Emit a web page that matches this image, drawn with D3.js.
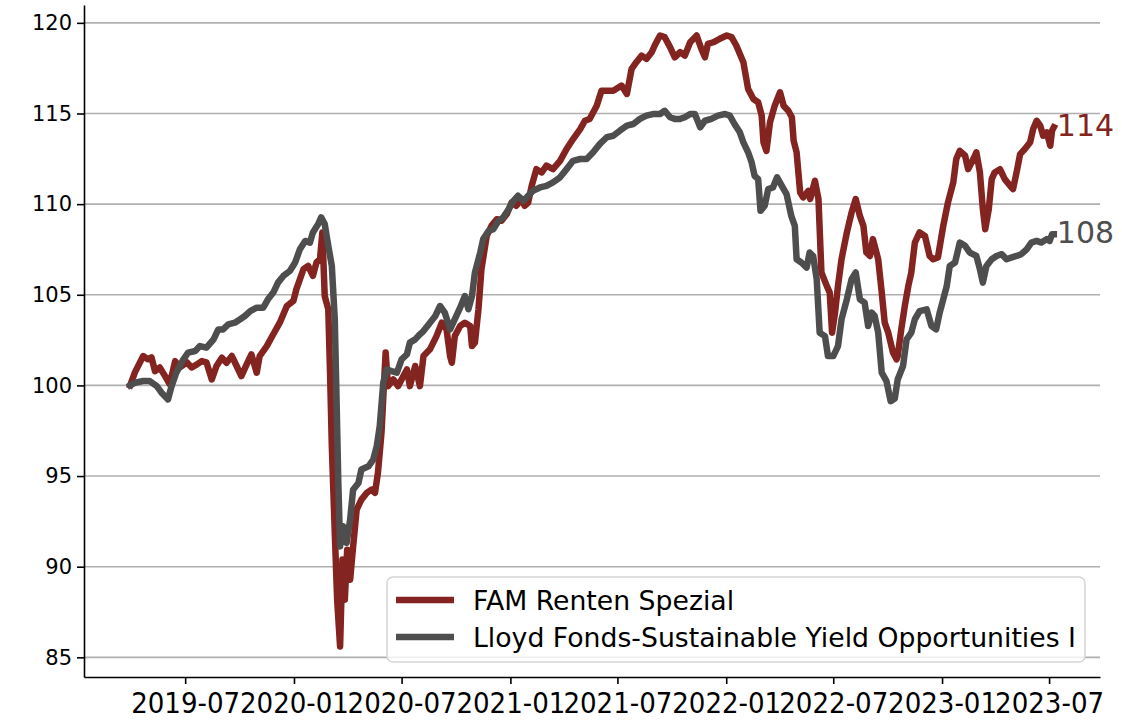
<!DOCTYPE html>
<html>
<head>
<meta charset="utf-8">
<script src="https://cdn.jsdelivr.net/npm/d3@7"></script>
<style>
  body { margin: 0; background: #fff; }
  svg { display: block; font-family: "DejaVu Sans", sans-serif; }
</style>
</head>
<body>
<svg id="chart" width="1122" height="726"></svg>
<script>
const seriesNames = ["FAM Renten Spezial", "Lloyd Fonds-Sustainable Yield Opportunities I"];
const seriesColors = ["#832420", "#4f4e4f"];

const famDates = [
  "2019-03-30","2019-04-07","2019-04-21","2019-04-29","2019-05-05","2019-05-11","2019-05-19","2019-05-28",
  "2019-06-05","2019-06-14","2019-06-22","2019-07-04","2019-07-12","2019-07-21","2019-07-29","2019-08-06",
  "2019-08-15","2019-08-23","2019-09-01","2019-09-09","2019-09-18","2019-09-26","2019-10-04","2019-10-13",
  "2019-10-21","2019-10-30","2019-11-04","2019-11-16","2019-11-27","2019-12-08","2019-12-20","2019-12-31",
  "2020-01-05","2020-01-17","2020-01-25","2020-02-02","2020-02-08","2020-02-14","2020-02-18","2020-02-22",
  "2020-02-28","2020-03-02","2020-03-05","2020-03-10","2020-03-14","2020-03-19","2020-03-23","2020-03-27",
  "2020-03-31","2020-04-05","2020-04-09","2020-04-16","2020-04-24","2020-05-03","2020-05-11","2020-05-17",
  "2020-05-22","2020-05-28","2020-06-01","2020-06-04","2020-06-08","2020-06-17","2020-06-25","2020-07-10",
  "2020-07-15","2020-07-24","2020-08-01","2020-08-07","2020-08-18","2020-08-29","2020-09-07","2020-09-15",
  "2020-09-21","2020-09-24","2020-09-29","2020-10-08","2020-10-16","2020-10-25","2020-10-28","2020-11-02",
  "2020-11-08","2020-11-13","2020-11-22","2020-11-30","2020-12-09","2020-12-17","2020-12-26","2021-01-03",
  "2021-01-11","2021-01-20","2021-01-25","2021-01-31","2021-02-06","2021-02-14","2021-02-23","2021-03-03",
  "2021-03-14","2021-03-26","2021-04-06","2021-04-17","2021-04-29","2021-05-07","2021-05-15","2021-05-27",
  "2021-06-04","2021-06-13","2021-06-24","2021-07-08","2021-07-17","2021-07-25","2021-08-02","2021-08-11",
  "2021-08-19","2021-08-28","2021-09-02","2021-09-11","2021-09-19","2021-09-28","2021-10-06","2021-10-15",
  "2021-10-23","2021-11-01","2021-11-12","2021-11-20","2021-11-26","2021-12-01","2021-12-10","2021-12-21",
  "2022-01-02","2022-01-10","2022-01-18","2022-01-30","2022-02-07","2022-02-16","2022-02-24","2022-03-02",
  "2022-03-05","2022-03-10","2022-03-16","2022-03-24","2022-04-02","2022-04-08","2022-04-16","2022-04-22",
  "2022-04-25","2022-04-30","2022-05-06","2022-05-11","2022-05-20","2022-05-23","2022-05-31","2022-06-06",
  "2022-06-11","2022-06-20","2022-06-25","2022-06-29","2022-07-04","2022-07-09","2022-07-15","2022-07-24",
  "2022-08-01","2022-08-08","2022-08-15","2022-08-21","2022-08-26","2022-09-01","2022-09-06","2022-09-15",
  "2022-09-21","2022-09-26","2022-10-02","2022-10-10","2022-10-16","2022-10-18","2022-10-24","2022-10-30",
  "2022-11-05","2022-11-10","2022-11-16","2022-11-24","2022-12-03","2022-12-11","2022-12-17","2022-12-25",
  "2023-01-03","2023-01-11","2023-01-20","2023-01-25","2023-01-31","2023-02-09","2023-02-14","2023-02-23",
  "2023-02-28","2023-03-06","2023-03-11","2023-03-15","2023-03-21","2023-03-26","2023-03-31","2023-04-09",
  "2023-04-17","2023-04-26","2023-05-01","2023-05-07","2023-05-13","2023-05-21","2023-05-30","2023-06-04",
  "2023-06-10","2023-06-16","2023-06-21","2023-06-27","2023-07-03","2023-07-06","2023-07-09"
];
const famValues = [
  100.0,100.72,101.62,101.44,101.55,100.79,100.99,100.51,
  100.06,101.34,100.99,101.27,100.99,101.16,101.34,101.27,
  100.33,101.07,101.53,101.25,101.62,101.07,100.51,101.16,
  101.71,100.70,101.62,102.17,102.82,103.46,104.38,104.66,
  105.30,106.41,106.59,106.04,106.78,106.96,108.44,104.93,
  104.20,100.70,96.65,91.88,88.18,85.60,90.39,88.18,
  90.94,89.28,90.76,93.15,93.70,94.07,94.25,94.07,
  95.18,97.39,99.96,101.81,99.96,100.33,99.96,100.88,
  99.96,101.07,99.96,101.62,101.99,102.72,103.46,103.09,
  101.62,101.25,102.72,103.28,103.46,103.28,102.17,102.36,
  104.20,106.41,108.25,108.80,109.17,109.08,109.45,110.09,
  109.91,110.28,109.91,110.09,111.01,111.93,111.75,112.12,
  111.93,112.39,113.04,113.59,114.14,114.60,114.70,115.43,
  116.26,116.26,116.26,116.54,116.08,117.46,117.83,118.19,
  118.01,118.38,118.75,119.30,119.21,118.66,118.10,118.38,
  118.19,118.93,119.30,118.56,118.10,118.84,118.93,119.12,
  119.30,119.21,118.75,117.83,116.35,115.80,115.62,114.88,
  113.41,112.94,114.51,115.43,116.17,115.43,115.15,114.79,
  113.50,112.86,110.65,110.37,110.73,110.28,111.29,110.28,
  106.23,105.49,105.12,102.91,104.02,105.49,106.96,108.44,
  109.54,110.28,109.35,108.80,107.33,107.14,108.07,106.96,
  105.12,103.46,102.91,101.81,101.44,101.62,103.09,104.38,
  105.49,106.23,107.88,108.44,108.25,107.14,106.96,107.06,
  108.80,110.09,111.20,112.49,112.94,112.67,111.93,112.49,
  112.86,111.75,109.72,108.62,109.72,111.38,111.75,111.93,
  111.38,111.01,110.83,111.75,112.76,113.04,113.41,114.14,
  114.60,114.33,113.77,113.96,113.22,114.05,114.24
];

const lloydDates = [
  "2019-03-30","2019-04-07","2019-04-21","2019-05-02","2019-05-14","2019-05-22","2019-06-02","2019-06-08",
  "2019-06-16","2019-06-28","2019-07-06","2019-07-18","2019-07-26","2019-08-06","2019-08-18","2019-08-26",
  "2019-09-03","2019-09-12","2019-09-23","2019-10-02","2019-10-10","2019-10-19","2019-10-30","2019-11-10",
  "2019-11-18","2019-11-27","2019-12-05","2019-12-14","2019-12-25","2020-01-03","2020-01-11","2020-01-20",
  "2020-01-28","2020-02-02","2020-02-11","2020-02-16","2020-02-22","2020-02-28","2020-03-05","2020-03-10",
  "2020-03-13","2020-03-16","2020-03-19","2020-03-24","2020-03-30","2020-04-05","2020-04-10","2020-04-19",
  "2020-04-24","2020-05-06","2020-05-14","2020-05-20","2020-05-25","2020-05-31","2020-06-06","2020-06-14",
  "2020-06-23","2020-07-01","2020-07-10","2020-07-15","2020-07-24","2020-08-01","2020-08-07","2020-08-18",
  "2020-08-27","2020-09-04","2020-09-12","2020-09-21","2020-09-29","2020-10-08","2020-10-16","2020-10-22",
  "2020-10-28","2020-11-02","2020-11-11","2020-11-16","2020-11-25","2020-12-03","2020-12-12","2020-12-20",
  "2020-12-29","2021-01-06","2021-01-14","2021-01-23","2021-01-31","2021-02-08","2021-02-20","2021-03-03",
  "2021-03-14","2021-03-26","2021-04-06","2021-04-17","2021-04-29","2021-05-10","2021-05-21","2021-06-01",
  "2021-06-13","2021-06-24","2021-07-05","2021-07-17","2021-07-28","2021-08-08","2021-08-19","2021-08-30",
  "2021-09-11","2021-09-19","2021-09-28","2021-10-06","2021-10-15","2021-10-23","2021-11-01","2021-11-09",
  "2021-11-18","2021-11-26","2021-12-07","2021-12-18","2021-12-30","2022-01-07","2022-01-15","2022-01-24",
  "2022-01-30","2022-02-07","2022-02-13","2022-02-18","2022-02-24","2022-02-28","2022-03-07","2022-03-13",
  "2022-03-21","2022-03-28","2022-04-05","2022-04-13","2022-04-21","2022-04-27","2022-04-30","2022-05-08",
  "2022-05-17","2022-05-22","2022-05-28","2022-06-03","2022-06-08","2022-06-17","2022-06-22","2022-07-01",
  "2022-07-09","2022-07-15","2022-07-24","2022-08-01","2022-08-08","2022-08-15","2022-08-23","2022-08-29",
  "2022-09-04","2022-09-09","2022-09-15","2022-09-21","2022-09-29","2022-10-06","2022-10-13","2022-10-18",
  "2022-10-27","2022-11-02","2022-11-10","2022-11-16","2022-11-24","2022-12-06","2022-12-14","2022-12-22",
  "2022-12-28","2023-01-03","2023-01-09","2023-01-14","2023-01-23","2023-01-31","2023-02-09","2023-02-17",
  "2023-02-28","2023-03-06","2023-03-11","2023-03-17","2023-03-26","2023-04-03","2023-04-12","2023-04-20",
  "2023-04-29","2023-05-07","2023-05-15","2023-05-24","2023-06-01","2023-06-10","2023-06-18","2023-06-27",
  "2023-07-02","2023-07-06","2023-07-09"
];
const lloydValues = [
  100.0,100.15,100.24,100.24,99.96,99.60,99.23,99.96,
  100.70,101.44,101.81,101.90,102.17,102.08,102.54,103.09,
  103.09,103.37,103.46,103.65,103.83,104.10,104.29,104.29,
  104.75,105.12,105.67,106.04,106.31,106.78,107.51,107.97,
  107.88,108.44,108.90,109.27,108.90,107.70,106.59,103.65,
  99.23,94.62,91.12,92.23,91.31,92.60,94.25,94.62,
  95.36,95.54,95.91,96.65,97.75,100.15,100.88,100.79,
  100.70,101.44,101.71,102.36,102.54,102.82,103.00,103.46,
  103.83,104.38,104.02,103.09,103.65,104.29,104.93,104.20,
  104.93,106.23,107.33,108.07,108.52,108.62,109.08,109.27,
  109.72,110.18,110.46,110.18,110.46,110.73,110.92,111.01,
  111.20,111.48,111.93,112.39,112.49,112.49,112.86,113.31,
  113.69,113.77,114.05,114.33,114.42,114.70,114.88,114.97,
  114.97,115.15,114.79,114.70,114.70,114.79,114.97,114.97,
  114.24,114.60,114.70,114.88,114.97,114.88,114.42,113.96,
  113.41,112.86,112.30,111.56,111.38,109.63,109.91,110.83,
  110.92,111.48,111.01,110.55,109.35,108.80,106.96,106.78,
  106.50,107.33,107.14,105.86,102.91,102.72,101.62,101.62,
  102.17,103.65,104.75,105.86,106.23,104.75,104.57,103.28,
  104.02,103.83,102.91,100.70,100.24,99.13,99.28,100.33,
  101.07,102.54,102.91,103.65,104.10,104.20,103.28,103.09,
  104.02,104.75,105.49,106.59,106.78,107.88,107.70,107.33,
  107.14,106.41,105.67,106.59,106.96,107.14,107.24,106.96,
  107.06,107.14,107.24,107.51,107.88,107.97,107.88,108.07,
  107.97,108.34,108.34
];

const yTickValues = [85, 90, 95, 100, 105, 110, 115, 120];

const parseDate = d3.timeParse("%Y-%m-%d");
const series = [
  { name: seriesNames[0], color: seriesColors[0],
    points: famDates.map((d, i) => ({ date: parseDate(d), value: famValues[i] })) },
  { name: seriesNames[1], color: seriesColors[1],
    points: lloydDates.map((d, i) => ({ date: parseDate(d), value: lloydValues[i] })) }
];

const svg = d3.select("#chart");
const margin = { top: 5, right: 22, bottom: 49, left: 84 };
const width = 1122, height = 726;

const allPoints = series.flatMap(s => s.points);
const [x0, x1] = d3.extent(allPoints, d => d.date);
const xPad = (x1 - x0) * 0.05;
const [y0, y1] = d3.extent(allPoints, d => d.value);
const yPad = (y1 - y0) * 0.05;

const x = d3.scaleTime()
  .domain([new Date(+x0 - xPad), new Date(+x1 + xPad)])
  .range([margin.left, width - margin.right]);
const y = d3.scaleLinear()
  .domain([y0 - yPad, y1 + yPad])
  .range([height - margin.bottom, margin.top]);

// horizontal grid
svg.append("g")
  .selectAll("line")
  .data(yTickValues)
  .join("line")
  .attr("x1", margin.left).attr("x2", width - margin.right)
  .attr("y1", d => y(d)).attr("y2", d => y(d))
  .attr("stroke", "#b0b0b0")
  .attr("stroke-width", 1.6);

// axes
const yAxis = svg.append("g")
  .attr("transform", `translate(${margin.left},0)`)
  .call(d3.axisLeft(y).tickValues(yTickValues).tickSize(7).tickSizeOuter(0).tickPadding(5).tickFormat(d3.format("d")));
yAxis.select(".domain").attr("stroke", "#000").attr("stroke-width", 1.6);
yAxis.selectAll(".tick line").attr("stroke", "#000").attr("stroke-width", 1.6);
yAxis.selectAll(".tick text")
  .attr("fill", "#000")
  .style("font-family", "DejaVu Sans")
  .style("font-size", "21px");

const xAxis = svg.append("g")
  .attr("transform", `translate(0,${height - margin.bottom})`)
  .call(d3.axisBottom(x).ticks(d3.timeMonth.every(6)).tickSize(7).tickSizeOuter(0).tickPadding(8).tickFormat(d3.timeFormat("%Y-%m")));
xAxis.select(".domain").attr("stroke", "#000").attr("stroke-width", 1.6);
xAxis.selectAll(".tick line").attr("stroke", "#000").attr("stroke-width", 1.6);
xAxis.selectAll(".tick text")
  .attr("fill", "#000")
  .style("font-family", "DejaVu Sans Condensed, DejaVu Sans")
  .style("font-stretch", "condensed")
  .style("font-size", "29px");

// lines
const line = d3.line()
  .x(d => x(d.date))
  .y(d => y(d.value));

svg.append("g")
  .selectAll("path")
  .data(series)
  .join("path")
  .attr("d", d => line(d.points))
  .attr("fill", "none")
  .attr("stroke", d => d.color)
  .attr("stroke-width", 6.5)
  .attr("stroke-linejoin", "round")
  .attr("stroke-linecap", "square");

// end labels
svg.append("g")
  .selectAll("text")
  .data(series)
  .join("text")
  .attr("x", d => x(d.points[d.points.length - 1].date) + 3)
  .attr("y", d => y(d.points[d.points.length - 1].value))
  .attr("dy", "0.3em")
  .attr("fill", d => d.color)
  .style("font-size", "30px")
  .text(d => Math.round(d.points[d.points.length - 1].value));

// legend
const legend = svg.append("g").attr("transform", "translate(387,577)");
legend.append("rect")
  .attr("width", 698).attr("height", 85)
  .attr("rx", 6)
  .attr("fill", "#fff").attr("fill-opacity", 0.8)
  .attr("stroke", "#d6d6d6").attr("stroke-width", 1.6);
const items = legend.selectAll("g.item")
  .data(series)
  .join("g")
  .attr("class", "item")
  .attr("transform", (d, i) => `translate(0,${23 + i * 37})`);
items.append("line")
  .attr("x1", 9).attr("x2", 67)
  .attr("stroke", d => d.color)
  .attr("stroke-width", 6.5);
items.append("text")
  .attr("x", 86)
  .attr("dy", "0.36em")
  .attr("fill", "#000")
  .style("font-size", "26.7px")
  .text(d => d.name);
</script>
</body>
</html>
